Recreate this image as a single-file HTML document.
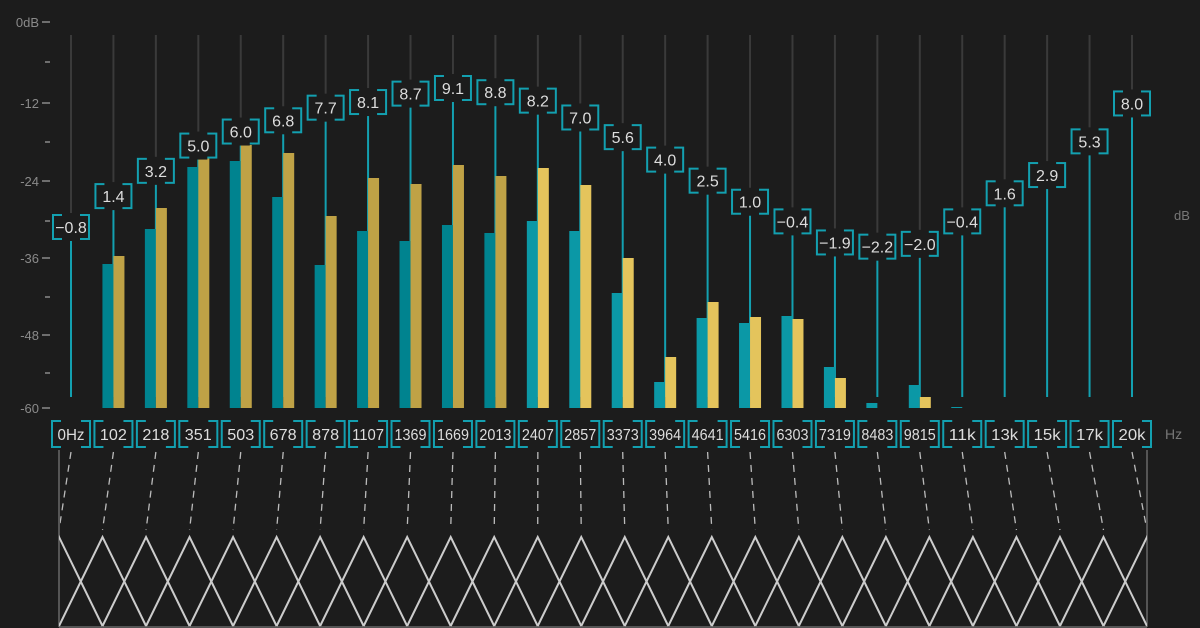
<!DOCTYPE html>
<html><head><meta charset="utf-8"><style>
html,body{margin:0;padding:0;background:#1c1c1c;}
svg{display:block;font-family:"Liberation Sans",sans-serif;}
</style></head><body>
<svg id="s" width="1200" height="628" viewBox="0 0 1200 628" xmlns="http://www.w3.org/2000/svg">
<defs><clipPath id="c"><rect x="59" y="440" width="1088" height="188"/></clipPath></defs>
<rect width="1200" height="628" fill="#1c1c1c"/>
<g fill="#8a8a8a" font-size="13" text-anchor="end">
<text x="39" y="27">0dB</text><line x1="42" y1="22" x2="50" y2="22" stroke="#8a8a8a" stroke-width="1.5"/>
<line x1="45" y1="62" x2="50" y2="62" stroke="#8a8a8a" stroke-width="1.5"/>
<text x="39" y="108">-12</text><line x1="42" y1="103" x2="50" y2="103" stroke="#8a8a8a" stroke-width="1.5"/>
<line x1="45" y1="142" x2="50" y2="142" stroke="#8a8a8a" stroke-width="1.5"/>
<text x="39" y="186">-24</text><line x1="42" y1="181" x2="50" y2="181" stroke="#8a8a8a" stroke-width="1.5"/>
<line x1="45" y1="221" x2="50" y2="221" stroke="#8a8a8a" stroke-width="1.5"/>
<text x="39" y="263">-36</text><line x1="42" y1="258" x2="50" y2="258" stroke="#8a8a8a" stroke-width="1.5"/>
<line x1="45" y1="297" x2="50" y2="297" stroke="#8a8a8a" stroke-width="1.5"/>
<text x="39" y="340">-48</text><line x1="42" y1="335" x2="50" y2="335" stroke="#8a8a8a" stroke-width="1.5"/>
<line x1="45" y1="373" x2="50" y2="373" stroke="#8a8a8a" stroke-width="1.5"/>
<text x="39" y="413">-60</text><line x1="42" y1="408" x2="50" y2="408" stroke="#8a8a8a" stroke-width="1.5"/>
</g>
<text x="1174" y="220" fill="#777" font-size="13">dB</text>
<text x="1165" y="439" fill="#777" font-size="14">Hz</text>
<g id="g"></g>
<g id="t" clip-path="url(#c)"></g>
</svg>
<script>
var g=document.getElementById('g'),h='',t='';
var vals=["-0.8","1.4","3.2","5.0","6.0","6.8","7.7","8.1","8.7","9.1","8.8","8.2","7.0","5.6","4.0","2.5","1.0","-0.4","-1.9","-2.2","-2.0","-0.4","1.6","2.9","5.3","8.0"];
var hz=["0Hz","102","218","351","503","678","878","1107","1369","1669","2013","2407","2857","3373","3964","4641","5416","6303","7319","8483","9815","11k","13k","15k","17k","20k"];
var bars=[[0,0],[264,256],[229,208],[167,158],[161,145],[197,153],[265,216],[231,178],[241,184],[225,165],[233,176],[221,168],[231,185],[293,258],[382,357],[318,302],[323,317],[316,319],[367,378],[403,0],[385,397],[407,0],[0,0],[0,0],[0,0],[0,0]];
for(var i=0;i<26;i++){
 var x=71+i*42.44,v=parseFloat(vals[i]),y=227-14.04*(v+0.8);
 var gold=i<11?'#bfa246':'#e4c45c', teal=i<11?'#00838f':'#0b98a6';
 h+='<line x1="'+x+'" y1="35" x2="'+x+'" y2="'+(y-12)+'" stroke="#3a3a3a" stroke-width="2"/>';
 h+='<line x1="'+x+'" y1="'+(y+12)+'" x2="'+x+'" y2="397" stroke="#13a0b0" stroke-width="2"/>';
 var b=bars[i];
 if(b[0])h+='<rect x="'+(x-11)+'" y="'+b[0]+'" width="11" height="'+(408-b[0])+'" fill="'+teal+'"/>';
 if(b[1])h+='<rect x="'+x+'" y="'+b[1]+'" width="11" height="'+(408-b[1])+'" fill="'+gold+'"/>';
 h+='<rect x="'+(x-18)+'" y="'+(y-12)+'" width="36" height="24" fill="none" stroke="#13a0b0" stroke-width="2"/>';
 h+='<rect x="'+(x-9)+'" y="'+(y-14)+'" width="18" height="4" fill="#1c1c1c"/>';
 h+='<rect x="'+(x-9)+'" y="'+(y+10)+'" width="18" height="4" fill="#1c1c1c"/>';
 h+='<text x="'+x+'" y="'+(y+6)+'" fill="#ddd" font-size="16" text-anchor="middle">'+vals[i].replace('-','\u2212')+'</text>';
 h+='<rect x="'+(x-19)+'" y="421" width="38" height="26" fill="none" stroke="#13a0b0" stroke-width="2"/>';
 h+='<rect x="'+(x-10)+'" y="419" width="20" height="4" fill="#1c1c1c"/>';
 h+='<rect x="'+(x-10)+'" y="445" width="20" height="4" fill="#1c1c1c"/>';
 h+='<text x="'+x+'" y="440" fill="#ddd" font-size="16" text-anchor="middle" textLength="'+Math.min(32,hz[i].length*9)+'" lengthAdjust="spacingAndGlyphs">'+hz[i]+'</text>';
 var px=59+i*43.52;
 h+='<line x1="'+x+'" y1="452" x2="'+px+'" y2="530" stroke="#bbb" stroke-width="1.3" stroke-dasharray="7,6"/>';
 t+='<polyline points="'+(px-43.52)+',626 '+px+',537 '+(px+43.52)+',626" fill="none" stroke="#ccc" stroke-width="2"/>';
}
h+='<line x1="59" y1="450" x2="59" y2="627" stroke="#555" stroke-width="2"/>';
h+='<line x1="1147" y1="450" x2="1147" y2="627" stroke="#555" stroke-width="2"/>';
h+='<line x1="59" y1="627" x2="1147" y2="627" stroke="#555" stroke-width="2"/>';
g.innerHTML=h;
document.getElementById('t').innerHTML=t;
</script>
</body></html>
